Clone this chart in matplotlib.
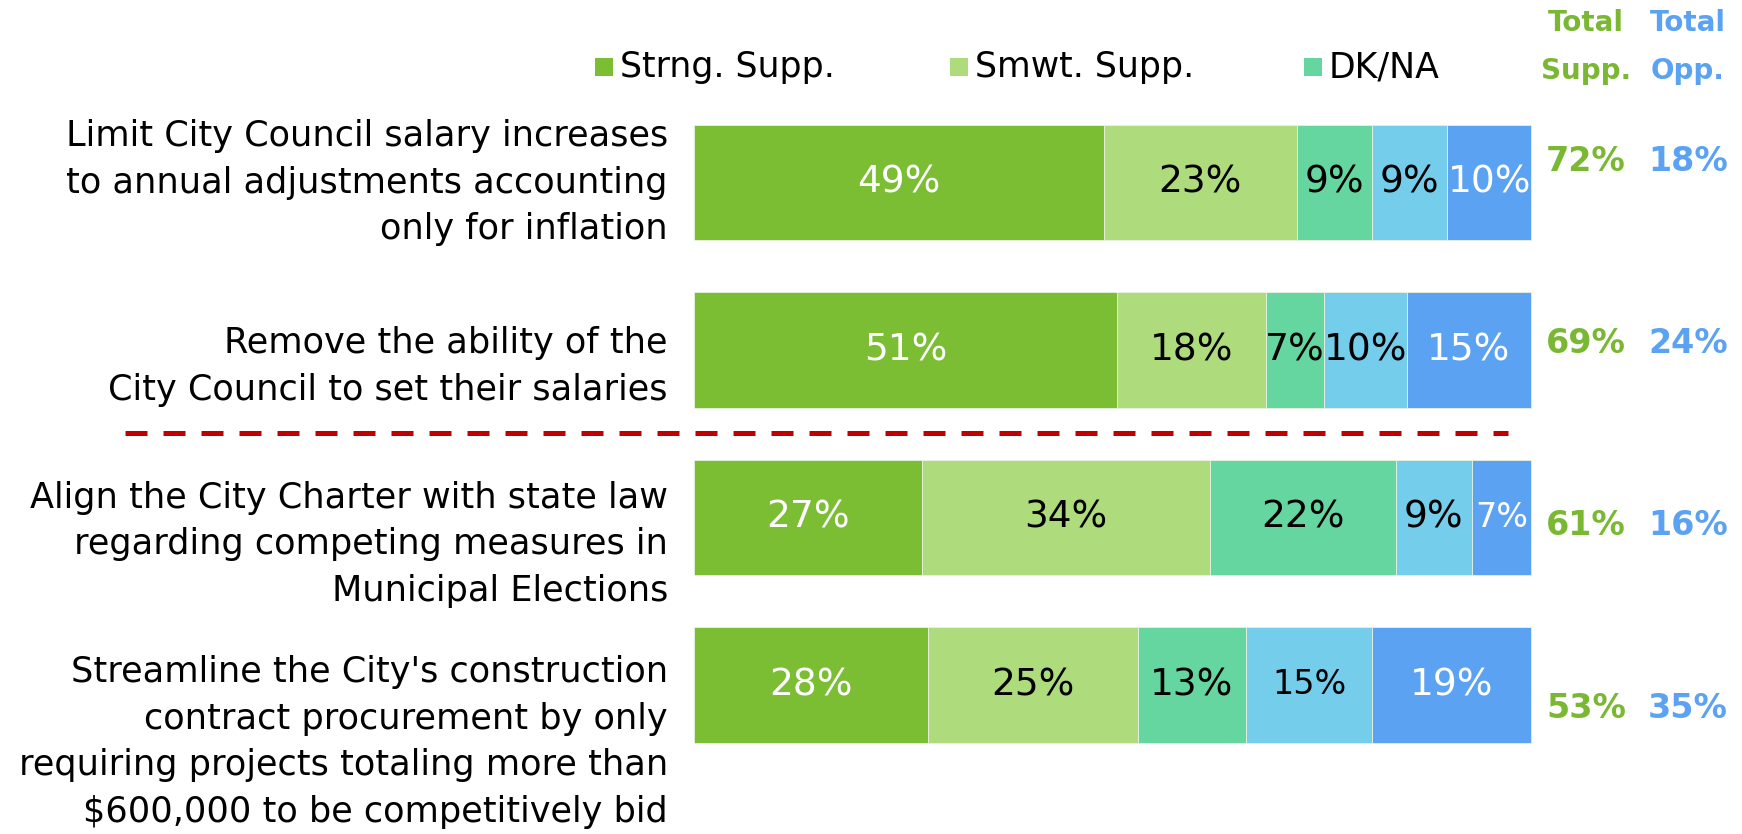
import numpy as np
import matplotlib
matplotlib.use('Agg')
import matplotlib.pyplot as plt

questions = [
    'Limit City Council salary increases\nto annual adjustments accounting\nonly for inflation',
    'Remove the ability of the\nCity Council to set their salaries',
    'Align the City Charter with state law\nregarding competing measures in\nMunicipal Elections',
    "Streamline the City's construction\ncontract procurement by only\nrequiring projects totaling more than\n$600,000 to be competitively bid",
]
series = ['Strng. Supp.', 'Smwt. Supp.', 'DK/NA', 'Smwt. Opp.', 'Strng. Opp.']
strng_supp = [49, 51, 27, 28]
smwt_supp = [23, 18, 34, 25]
dk_na = [9, 7, 22, 13]
smwt_opp = [9, 10, 9, 15]
strng_opp = [10, 15, 7, 19]
total_supp = [72, 69, 61, 53]
total_opp = [18, 24, 16, 35]

colors = ['#7BBD33', '#AEDB7B', '#66D6A1', '#74CDEB', '#5BA2F3']
text_colors = ['white', 'black', 'black', 'black', 'white']
supp_color = '#7AB733'
opp_color = '#5BA2F3'

# figure is 1742 x 834 px; one axes over the whole figure
W, H = 1742, 834
fig = plt.figure(figsize=(W / 100, H / 100), dpi=100)
ax = fig.add_axes([0, 0, 1, 1])
ax.axis('off')

px_per_pct = 837 / 100.0
x0 = 694
row_px = 167.5
y0 = 182.5
ax.set_xlim(-x0 / px_per_pct, (W - x0) / px_per_pct)
ax.set_ylim((H - y0) / row_px, -y0 / row_px)

data = np.array([strng_supp, smwt_supp, dk_na, smwt_opp, strng_opp], dtype=float)
norm = data / data.sum(axis=0) * 100
ypos = np.arange(len(questions))

# a few labels were shrunk to fit their segment
small = {(4, 2): 24, (3, 3): 24}

left = np.zeros(len(questions))
for k in range(len(series)):
    ax.barh(ypos, norm[k], left=left, height=0.69, color=colors[k],
            edgecolor='#E8F2E0', linewidth=0.6)
    for i in range(len(questions)):
        size = small.get((k, i), 27)
        ax.text(left[i] + norm[k][i] / 2, ypos[i], '%d%%' % data[k][i],
                ha='center', va='center', fontsize=size, color=text_colors[k])
    left += norm[k]

# question labels (text boxes sit a bit lower than bars further down)
label_shift = [0.0, 0.1, 0.16, 0.34]
for i, q in enumerate(questions):
    ax.text(-26 / px_per_pct, ypos[i] + label_shift[i], q,
            ha='right', va='center', fontsize=25.3, linespacing=1.47)

# totals columns
x_supp = (1586 - x0) / px_per_pct
x_opp = (1688 - x0) / px_per_pct
tot_shift = [-0.128, -0.039, 0.048, 0.143]
for i in range(len(questions)):
    ax.text(x_supp, ypos[i] + tot_shift[i], '%d%%' % total_supp[i], ha='center',
            va='center', fontsize=24, fontweight='bold', color=supp_color)
    ax.text(x_opp, ypos[i] + tot_shift[i], '%d%%' % total_opp[i], ha='center',
            va='center', fontsize=24, fontweight='bold', color=opp_color)
ax.text(x_supp, (47 - y0) / row_px, 'Total\nSupp.', ha='center', va='center',
        fontsize=20, fontweight='bold', color=supp_color, linespacing=1.9)
ax.text(x_opp, (47 - y0) / row_px, 'Total\nOpp.', ha='center', va='center',
        fontsize=20, fontweight='bold', color=opp_color, linespacing=1.9)

# divider between the salary measures and the rest
ax.plot([(125 - x0) / px_per_pct, (1508 - x0) / px_per_pct], [(433 - y0) / row_px] * 2,
        color='#C00000', linewidth=3.6, dashes=(4.4, 3.2), solid_capstyle='butt',
        dash_capstyle='butt')

# legend (only the first three series are shown)
leg_x = [598, 953, 1307]
leg_y = (67 - y0) / row_px
for k in range(3):
    ax.scatter([(leg_x[k] + 6 - x0) / px_per_pct], [leg_y], marker='s', s=150,
               color=colors[k], linewidths=0)
    ax.text((leg_x[k] + 22 - x0) / px_per_pct, leg_y, series[k], ha='left',
            va='center', fontsize=25)

fig.savefig('out.png', dpi=100)
